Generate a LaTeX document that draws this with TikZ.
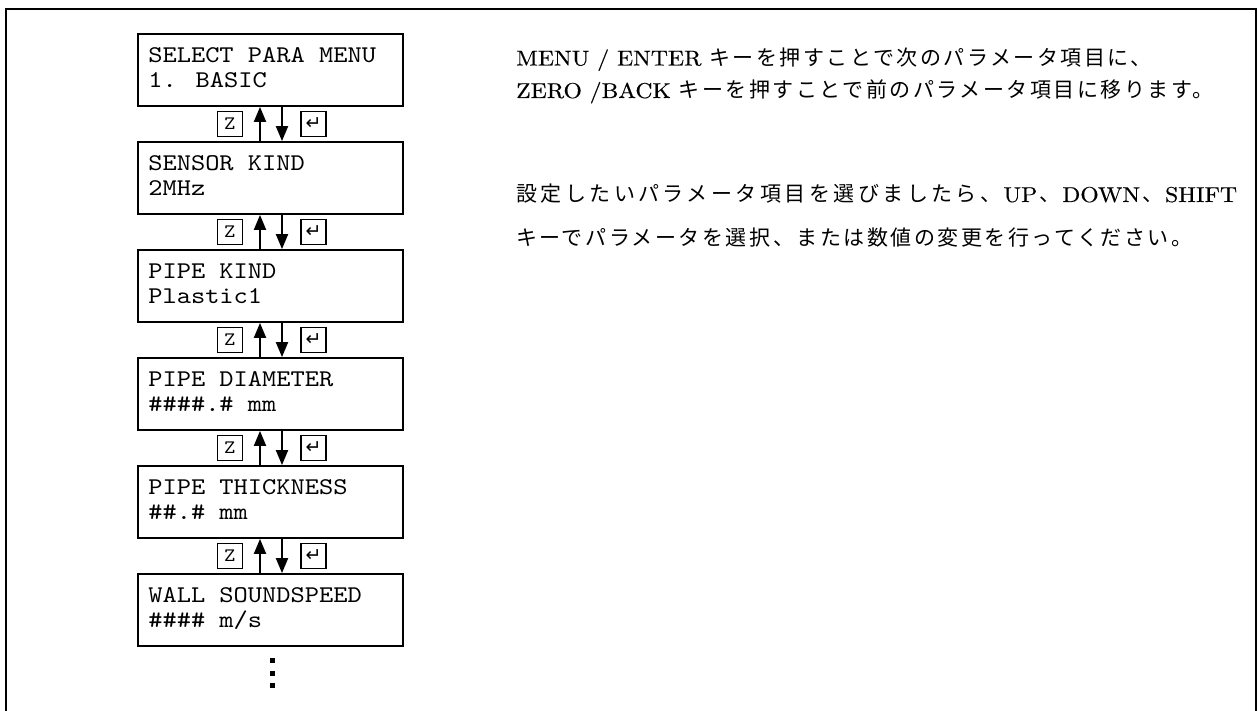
\documentclass[tikz,border=0pt]{standalone}
\usepackage{fontspec}
\newfontfamily\lcdfont[Extension=.otf,FakeStretch=1.13]{lmmono10-regular}
\newfontfamily\jpfont[LetterSpace=12]{Noto Sans CJK JP}
\newfontfamily\jpwfont[LetterSpace=16.5]{Noto Sans CJK JP}
\newfontfamily\latfont[Extension=.otf,FakeStretch=1.1,FakeBold=0.4]{lmroman10-regular}
\newfontfamily\symfont{DejaVu Sans}
\newcommand\latx{\latfont\fontsize{21.5}{24}\selectfont}
\newcommand\jpx{\jpfont\fontsize{21}{24}\selectfont}
\newcommand\jpwx{\jpwfont\fontsize{21}{24}\selectfont}
\usetikzlibrary{arrows.meta,calc}
\begin{document}
\begin{tikzpicture}[x=1pt,y=-1pt,
  lcd/.style={draw, line width=1.8pt, minimum width=265pt, minimum height=72pt, inner sep=0pt},
  lcdtext/.style={anchor=base west, inner sep=0pt, font=\lcdfont\fontsize{24}{25}\selectfont},
  keybox/.style={draw, line width=1.3pt, minimum size=25pt, inner sep=0pt},
  nav/.style={line width=2pt, -{Triangle[width=12pt,length=15pt]}},
  para/.style={anchor=base west, inner sep=0pt},
  dotbox/.style={fill, minimum size=5pt, inner sep=0pt}]
\useasboundingbox (0,0) rectangle (1258,711);
% outer frame
\draw[line width=2pt] (6,711) -- (6,9) -- (1255.5,9) -- (1255.5,711);
% boxes
\node[lcd] (b1) at (270.5,70) {};
\node[lcd] (b2) at (270.5,178) {};
\node[lcd] (b3) at (270.5,286) {};
\node[lcd] (b4) at (270.5,394) {};
\node[lcd] (b5) at (270.5,502) {};
\node[lcd] (b6) at (270.5,610) {};
\node[lcdtext] (b1a) at ($(b1.north west)+(11,29)$) {SELECT PARA MENU};
\node[lcdtext] (b1b) at ($(b1.north west)+(11,54)$) {1. BASIC};
\node[lcdtext] (b2a) at ($(b2.north west)+(11,29)$) {SENSOR KIND};
\node[lcdtext] (b2b) at ($(b2.north west)+(11,54)$) {2MHz};
\node[lcdtext] (b3a) at ($(b3.north west)+(11,29)$) {PIPE KIND};
\node[lcdtext] (b3b) at ($(b3.north west)+(11,54)$) {Plastic1};
\node[lcdtext] (b4a) at ($(b4.north west)+(11,29)$) {PIPE DIAMETER};
\node[lcdtext] (b4b) at ($(b4.north west)+(11,54)$) {\#\#\#\#.\# mm};
\node[lcdtext] (b5a) at ($(b5.north west)+(11,29)$) {PIPE THICKNESS};
\node[lcdtext] (b5b) at ($(b5.north west)+(11,54)$) {\#\#.\# mm};
\node[lcdtext] (b6a) at ($(b6.north west)+(11,29)$) {WALL SOUNDSPEED};
\node[lcdtext] (b6b) at ($(b6.north west)+(11,54)$) {\#\#\#\# m/s};
% connectors
\coordinate (ux) at (260,0);
\coordinate (dx) at (282,0);
\coordinate (zx) at (229.8,0);
\coordinate (ex) at (313.5,0);
\foreach \i [evaluate=\i as \j using int(\i+1)] in {1,...,5}{
  \draw[nav] (b\j.north -| ux) -- (b\i.south -| ux);
  \draw[nav] (b\i.south -| dx) -- (b\j.north -| dx);
  \coordinate (m\i) at ($(b\i.south)!0.5!(b\j.north)$);
  \node[keybox, font=\lcdfont\fontsize{19}{19}\selectfont] (z\i) at (m\i -| zx) {Z};
  \node[keybox, font=\symfont\fontsize{19}{19}\selectfont] (e\i) at (m\i -| ex) {↵};
}
% continuation dots
\node[dotbox] (d1) at (272,660) {};
\node[dotbox] (d2) at (272,673) {};
\node[dotbox] (d3) at (272,685) {};
% explanation text
\node[para] (p1) at (516,65.5) {\latx MENU / ENTER \jpx キーを押すことで次のパラメータ項目に、};
\node[para] (p2) at (516,98) {\latx ZERO /BACK \jpx キーを押すことで前のパラメータ項目に移ります。};
\node[para] (p3) at (516,202) {\jpwx 設定したいパラメータ項目を選びましたら、\hspace{2pt}\latx UP\hspace{2pt}\jpwx 、\hspace{2pt}\latx DOWN\hspace{2pt}\jpwx 、\hspace{2pt}\latx SHIFT};
\node[para] (p4) at (516,246) {\jpx キーでパラメータを選択、または数値の変更を行ってください。};
\end{tikzpicture}
\end{document}
